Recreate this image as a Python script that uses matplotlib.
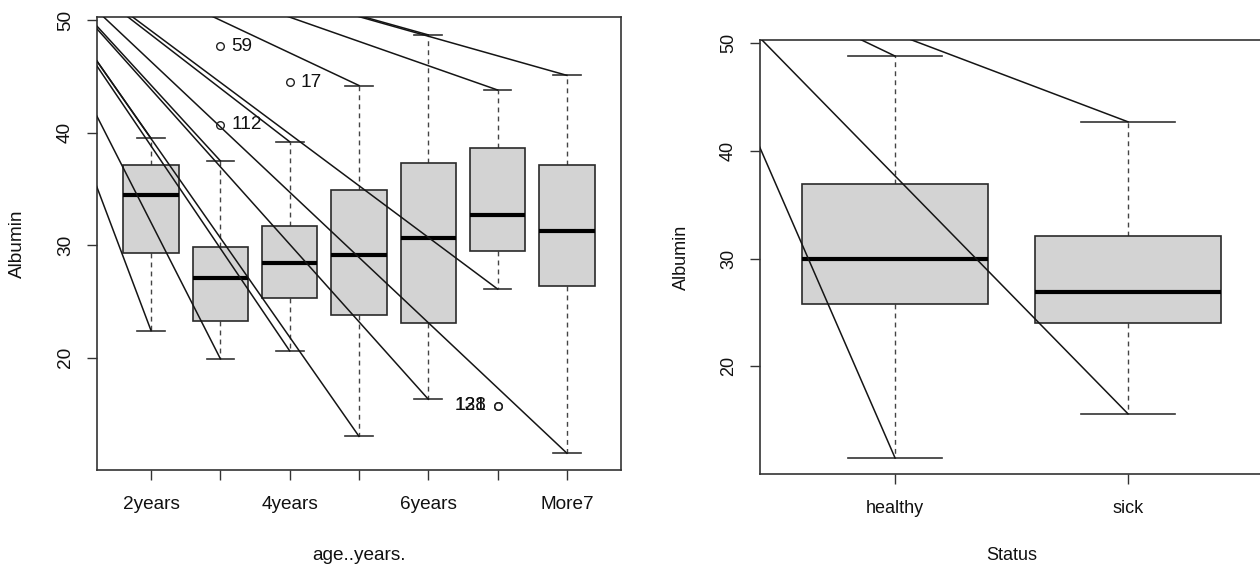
import matplotlib
matplotlib.use("Agg")
import matplotlib.pyplot as plt
from matplotlib.patches import Rectangle

plt.rcParams['font.family'] = ['Liberation Sans', 'DejaVu Sans']

# Albumin by age group (boxplot stats)
age_groups = ["2years", "3years", "4years", "5years", "6years", "7years", "More7"]
age_low = [22.4, 19.9, 20.6, 13.0, 16.3, 26.1, 11.5]
age_q1 = [29.3, 23.3, 25.3, 23.8, 23.1, 29.5, 26.4]
age_med = [34.5, 27.1, 28.4, 29.1, 30.6, 32.7, 31.3]
age_q3 = [37.1, 29.8, 31.7, 34.9, 37.3, 38.6, 37.1]
age_high = [39.5, 37.5, 39.2, 44.2, 48.7, 43.8, 45.1]

# outliers: group number, value, row id
age_out_group = [2, 2, 3, 6, 6]
age_out_value = [47.7, 40.7, 44.5, 15.7, 15.7]
age_out_label = ["59", "112", "17", "128", "131"]

# Albumin by status
status_groups = ["healthy", "sick"]
status_low = [11.5, 15.6]
status_q1 = [25.8, 24.0]
status_med = [30.0, 26.9]
status_q3 = [36.9, 32.1]
status_high = [48.8, 42.7]

# the stray straight lines in the source image all run from one point
# (outside the plot) to each whisker end
age_stray_origin = (-1.27, 59.5)
status_stray_origin = (0.05, 58.65)

EDGE = "#2a2a2a"
TXT = "#111111"


def r_box(ax, low, q1, med, q3, high, origin):
    for i in range(len(med)):
        x = i + 1
        ax.add_patch(Rectangle((x - 0.4, q1[i]), 0.8, q3[i] - q1[i],
                               fc="#D3D3D3", ec=EDGE, lw=1.2, zorder=2))
        ax.plot([x - 0.4, x + 0.4], [med[i], med[i]], color="black", lw=3,
                solid_capstyle="butt", zorder=3)
        # whiskers + staples
        ax.plot([x, x], [q3[i], high[i]], color="#444444", lw=1,
                ls=(0, (3.5, 3)), zorder=1)
        ax.plot([x, x], [q1[i], low[i]], color="#444444", lw=1,
                ls=(0, (3.5, 3)), zorder=1)
        ax.plot([x - 0.2, x + 0.2], [high[i], high[i]], color="#333333", lw=1.2)
        ax.plot([x - 0.2, x + 0.2], [low[i], low[i]], color="#333333", lw=1.2)
        # stray lines
        for yv in (high[i], low[i]):
            ax.plot([origin[0], x], [origin[1], yv], color="#151515", lw=1.1, zorder=4)


def r_axes(ax, n, labels, fs, xlabel):
    all_vals = age_low + age_high + age_out_value + status_low + status_high
    lo, hi = min(all_vals), max(all_vals)
    pad = 0.04 * (hi - lo)
    ax.set_ylim(lo - pad, hi + pad)
    ax.set_xlim(0.5 - 0.04 * n, n + 0.5 + 0.04 * n)
    ax.set_xticks(range(1, n + 1))
    ax.set_xticklabels(labels)
    ax.set_yticks([20, 30, 40, 50])
    ax.tick_params(axis="x", length=7.5, width=1, color="#333333",
                   labelsize=fs, labelcolor=TXT, pad=11.3)
    ax.tick_params(axis="y", length=7.5, width=1, color="#333333",
                   labelsize=fs, labelcolor=TXT, pad=9)
    for lab in ax.get_yticklabels():
        lab.set_rotation(90)
        lab.set_va("center")
    for sp in ax.spines.values():
        sp.set_color("#333333")
        sp.set_linewidth(1.2)
    ax.set_ylabel("Albumin", fontsize=fs, color=TXT, va="center")
    ax.set_xlabel(xlabel, fontsize=fs, color=TXT, va="center")


fig = plt.figure(figsize=(12.6, 5.65), dpi=100)
ax1 = fig.add_axes([97 / 1260, 1 - 470 / 565, 524 / 1260, 453 / 565])
ax2 = fig.add_axes([760 / 1260, 1 - 474 / 565, 503 / 1260, 434 / 565])

# left: age groups (R drops every other label because they would overlap)
r_box(ax1, age_low, age_q1, age_med, age_q3, age_high, age_stray_origin)
shown = [g if i % 2 == 0 else "" for i, g in enumerate(age_groups)]
r_axes(ax1, len(age_groups), shown, 13.7, "age..years.")
ax1.yaxis.set_label_coords(-0.151, 0.5)
ax1.xaxis.set_label_coords(0.5, -0.188)

for g, v, lab in zip(age_out_group, age_out_value, age_out_label):
    ax1.plot(g, v, "o", mfc="none", mec="#222222", ms=5.5, mew=1, zorder=5)
    left = v < age_low[g - 1]
    ax1.annotate(lab, (g, v), xytext=(-8 if left else 8, 0),
                 textcoords="offset points", ha="right" if left else "left",
                 va="center", fontsize=13.7, color=TXT)

# right: status
r_box(ax2, status_low, status_q1, status_med, status_q3, status_high,
      status_stray_origin)
r_axes(ax2, len(status_groups), status_groups, 13, "Status")
ax2.yaxis.set_label_coords(-0.157, 0.5)
ax2.xaxis.set_label_coords(0.5, -0.187)

fig.savefig("out.png", dpi=100)
